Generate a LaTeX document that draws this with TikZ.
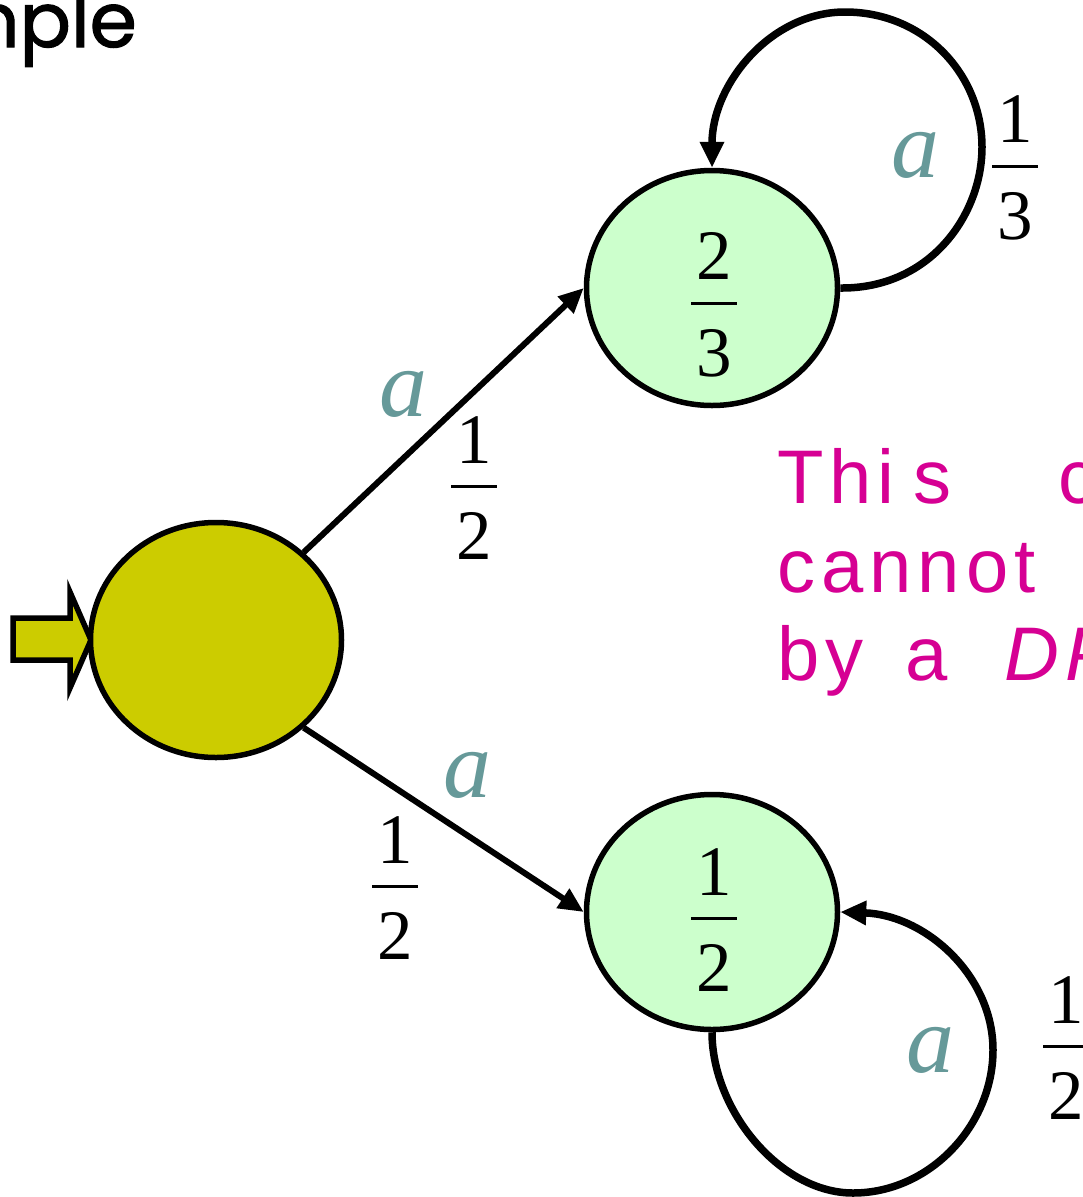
\documentclass[tikz,border=0pt]{standalone}
\usepackage{fontspec}
\setmainfont{Liberation Serif}
\newfontfamily\pinkfont[LetterSpace=8]{Liberation Sans}
\newfontfamily\comicfont[FakeBold=1.5]{Poppins}
\usetikzlibrary{shapes.geometric,arrows.meta}
\definecolor{stateolive}{RGB}{204,204,0}
\definecolor{stategreen}{RGB}{204,255,204}
\definecolor{labteal}{RGB}{102,153,153}
\definecolor{notepink}{RGB}{214,0,147}
\newcommand\fr[2]{\vbox{\hbox to 0.64em{\hss#1\hss}\kern0.31em\hrule height0.045em\kern0.34em\hbox to 0.64em{\hss#2\hss}}}
\tikzset{
  state/.style={ellipse, draw=black, line width=5.5pt, inner sep=0pt, minimum width=251pt, minimum height=235pt},
  fraclab/.style={inner sep=0pt, font=\fontsize{71}{85}\selectfont},
  sym/.style={inner sep=0pt, text=labteal, font=\fontsize{96}{110}\selectfont\itshape},
  edge/.style={line width=6pt, -{Triangle[length=25pt,width=22pt]}},
  loopedge/.style={line width=7.5pt, -{Triangle[length=26pt,width=23pt]}},
  note/.style={inner sep=0pt, anchor=base west, text=notepink, font=\fontsize{76}{90}\selectfont\pinkfont},
}
\begin{document}
\begin{tikzpicture}[x=1pt,y=-1pt]
\useasboundingbox (0,0) rectangle (1083,1197);
\clip (0,0) rectangle (1083,1197);
% title fragment
\node[inner sep=0pt, anchor=base east, font=\fontsize{76}{86}\selectfont\comicfont] (title) at (137,47) {mple};
% start arrow
\filldraw[fill=stateolive, draw=black, line width=5.5pt, line join=miter]
  (13,618) -- (70,618) -- (70,592) -- (91,640) -- (70,688) -- (70,660) -- (13,660) -- cycle;
% states
\node[state, fill=stateolive] (start) at (216,640) {};
\node[state, fill=stategreen] (top) at (712,288) {};
\node[state, fill=stategreen] (bot) at (712,912) {};
\node[fraclab] (topval) at (714,305) {\fr{2}{3}};
\node[fraclab] (botval) at (714,920) {\fr{1}{2}};
% edges
\draw[edge] (start.45) -- (top.west);
\draw[edge] (start.-45) -- (bot.west);
\draw[loopedge] (top.east) .. controls (930,289) and (982,215) .. (982,147)
  .. controls (982,75) and (925,12) .. (845,12)
  .. controls (770,12) and (712,85) .. (top.north);
\draw[loopedge] (bot.south) .. controls (712,1110) and (780,1193) .. (853,1193)
  .. controls (930,1193) and (993,1125) .. (993,1050)
  .. controls (993,975) and (925,915) .. (bot.east);
% labels
\node[sym] (a1) at (403,394) {a};
\node[fraclab] (p1) at (474,488) {\fr{1}{2}};
\node[sym] (a2) at (467,775) {a};
\node[fraclab] (p2) at (395,888) {\fr{1}{2}};
\node[sym] (a3) at (915,155) {a};
\node[fraclab] (p3) at (1015,168) {\fr{1}{3}};
\node[sym] (a4) at (930,1050) {a};
\node[fraclab] (p4) at (1066,1048) {\fr{1}{2}};
% note
\node[note] (n1) at (777,503) {Thi\hspace{0.25em}s\hspace{1.4em}c};
\node[note] (n2) at (777,592) {cannot};
\node[note] (n3) at (777,680) {by\hspace{0.55em}a\hspace{0.75em}\textit{DP}};
\end{tikzpicture}
\end{document}
